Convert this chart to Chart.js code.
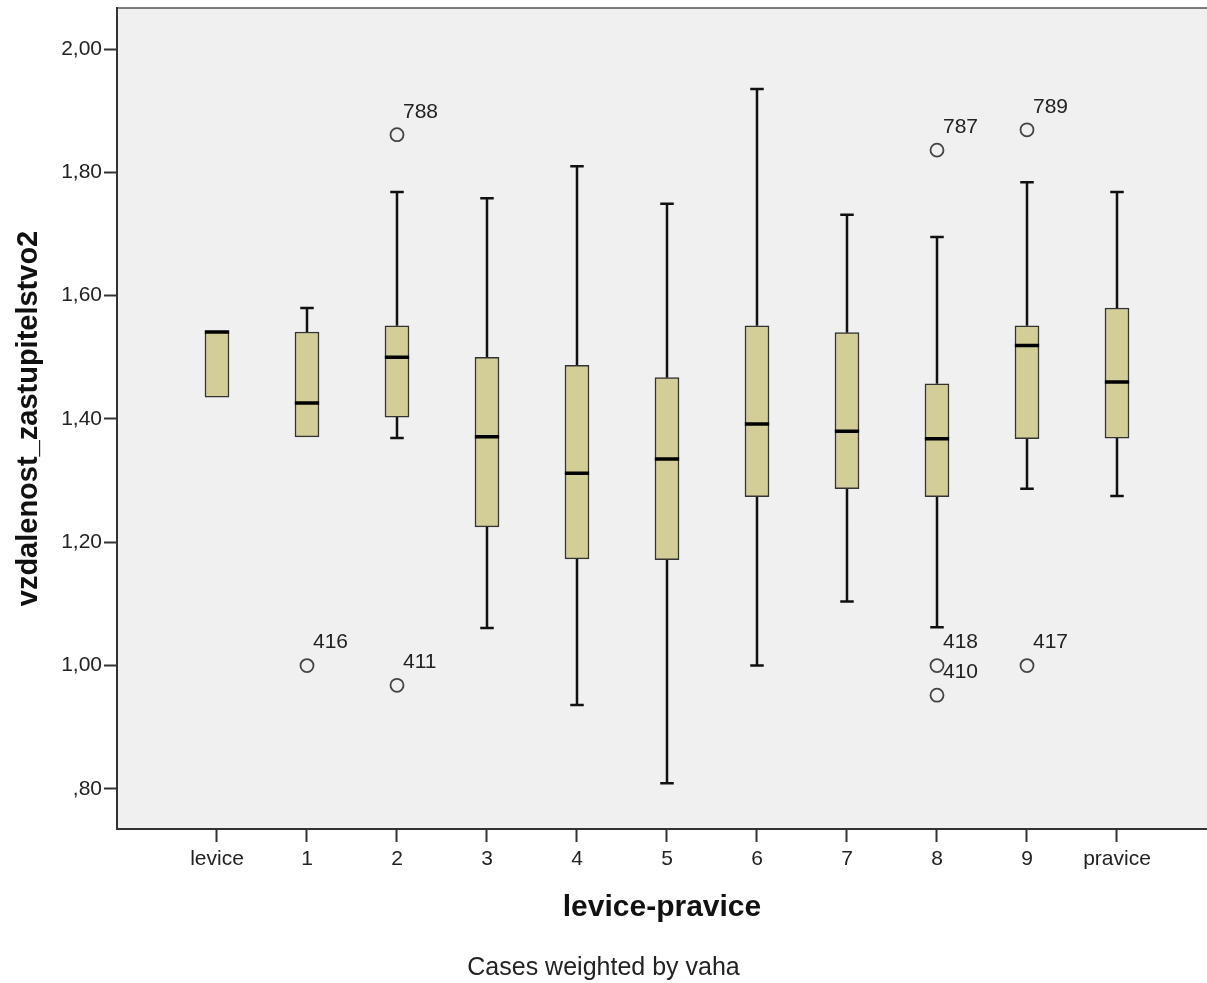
<!DOCTYPE html>
<html>
<head>
<meta charset="utf-8">
<script src="https://cdn.jsdelivr.net/npm/chart.js@4/dist/chart.umd.min.js"></script>
<style>
  html, body { margin: 0; padding: 0; background: #fff; }
  #box { width: 1207px; height: 983px; }
</style>
</head>
<body>
<div id="box"><canvas id="boxChart" width="1207" height="983"></canvas></div>
<script>
// boxplot: vzdalenost_zastupitelstvo2 by levice-pravice (SPSS style)
const categories = ['levice', '1', '2', '3', '4', '5', '6', '7', '8', '9', 'pravice'];
const whiskerLow  = [1.4355, 1.371, 1.369, 1.061, 0.936, 0.809, 1.000, 1.104, 1.062, 1.287, 1.275];
const q1          = [1.4355, 1.371, 1.403, 1.225, 1.173, 1.172, 1.274, 1.287, 1.274, 1.368, 1.369];
const median      = [1.541,  1.426, 1.500, 1.371, 1.312, 1.335, 1.392, 1.380, 1.368, 1.519, 1.460];
const q3          = [1.5426, 1.541, 1.551, 1.500, 1.487, 1.467, 1.551, 1.540, 1.457, 1.551, 1.580];
const whiskerHigh = [1.5426, 1.580, 1.768, 1.758, 1.810, 1.749, 1.935, 1.731, 1.695, 1.784, 1.768];

// outliers: category index, value, case id
const outlierCat   = [1, 2, 2, 8, 8, 8, 9, 9];
const outlierValue = [1.000, 1.861, 0.968, 1.836, 1.000, 0.952, 1.869, 1.000];
const outlierId    = ['416', '788', '411', '787', '418', '410', '789', '417'];

const yTicks = [0.8, 1.0, 1.2, 1.4, 1.6, 1.8, 2.0];

const FONT = 'Arial, "Liberation Sans", sans-serif';
const capHalf = 0.075;   // whisker cap half width (category units)
const medHalf = 0.135;   // median line half width

// build line segments (null breaks the line between segments)
const whiskerPts = [], capPts = [], medianPts = [];
categories.forEach((c, i) => {
  if (whiskerHigh[i] > q3[i]) {
    whiskerPts.push({x: i, y: q3[i]}, {x: i, y: whiskerHigh[i]}, {x: i, y: null});
    capPts.push({x: i - capHalf, y: whiskerHigh[i]}, {x: i + capHalf, y: whiskerHigh[i]}, {x: i, y: null});
  }
  if (whiskerLow[i] < q1[i]) {
    whiskerPts.push({x: i, y: q1[i]}, {x: i, y: whiskerLow[i]}, {x: i, y: null});
    capPts.push({x: i - capHalf, y: whiskerLow[i]}, {x: i + capHalf, y: whiskerLow[i]}, {x: i, y: null});
  }
  medianPts.push({x: i - medHalf, y: median[i]}, {x: i + medHalf, y: median[i]}, {x: i, y: null});
});
const boxData = categories.map((c, i) => ({x: i, y: [q1[i], q3[i]]}));
const outlierPts = outlierCat.map((c, i) => ({x: c, y: outlierValue[i]}));

// grey plot background + top frame line
const plotBg = {
  id: 'plotBg',
  beforeDraw(chart) {
    const {ctx, chartArea: a} = chart;
    ctx.save();
    ctx.fillStyle = '#f0f0f0';
    ctx.fillRect(a.left, a.top, a.right - a.left, a.bottom - a.top);
    ctx.strokeStyle = '#555';
    ctx.lineWidth = 1.5;
    ctx.beginPath();
    ctx.moveTo(a.left, a.top);
    ctx.lineTo(a.right, a.top);
    ctx.stroke();
    ctx.restore();
  }
};

// case ids next to outliers
const outlierLabels = {
  id: 'outlierLabels',
  afterDatasetsDraw(chart) {
    const idx = chart.data.datasets.findIndex(d => d.label === 'outliers');
    const meta = chart.getDatasetMeta(idx);
    const ctx = chart.ctx;
    ctx.save();
    ctx.font = '21px ' + FONT;
    ctx.fillStyle = '#222';
    ctx.textAlign = 'left';
    ctx.textBaseline = 'middle';
    meta.data.forEach((pt, i) => {
      ctx.fillText(outlierId[i], pt.x + 6, pt.y - 23);
    });
    ctx.restore();
  }
};

new Chart(document.getElementById('boxChart'), {
  type: 'bar',
  data: {
    datasets: [
      { type: 'line', label: 'whiskers', data: whiskerPts, borderColor: '#111', borderWidth: 2.5,
        pointRadius: 0, spanGaps: false, fill: false, order: 5 },
      { type: 'bar', label: 'boxes', data: boxData, backgroundColor: '#d3ce97', borderColor: '#333',
        borderWidth: 1.5, borderSkipped: false, barThickness: 24, order: 4 },
      { type: 'line', label: 'caps', data: capPts, borderColor: '#111', borderWidth: 2.5,
        pointRadius: 0, spanGaps: false, fill: false, order: 3 },
      { type: 'line', label: 'medians', data: medianPts, borderColor: '#000', borderWidth: 3.5,
        pointRadius: 0, spanGaps: false, fill: false, order: 2 },
      { type: 'scatter', label: 'outliers', data: outlierPts, showLine: false, pointStyle: 'circle',
        pointRadius: 6.5, borderWidth: 1.8, borderColor: '#444', backgroundColor: 'rgba(0,0,0,0)', order: 1 }
    ]
  },
  options: {
    responsive: false,
    animation: false,
    devicePixelRatio: 1,
    layout: { autoPadding: false, padding: { top: 8, right: 0, left: 0, bottom: 0 } },
    plugins: {
      legend: { display: false },
      tooltip: { enabled: false },
      title: {
        display: true, position: 'bottom', text: 'Cases weighted by vaha',
        color: '#222', font: { family: FONT, size: 25, weight: 'normal' },
        padding: { top: 10, bottom: 0 }
      }
    },
    scales: {
      x: {
        type: 'linear',
        offset: false,
        min: -1.111, max: 11.0,
        afterBuildTicks: s => { s.ticks = categories.map((c, i) => ({ value: i })); },
        afterFit: s => { s.height = 114; s.paddingLeft = 0; s.paddingRight = 0; },
        ticks: {
          autoSkip: false, maxRotation: 0, padding: 5, color: '#222',
          font: { family: FONT, size: 21 },
          callback: v => categories[v]
        },
        grid: { display: true, offset: false, drawOnChartArea: false, drawTicks: true, tickLength: 13, tickColor: '#333', tickWidth: 2 },
        border: { display: true, color: '#333', width: 2 },
        title: {
          display: true, text: 'levice-pravice', color: '#111',
          font: { family: FONT, size: 30, weight: 'bold' },
          padding: { top: 0, bottom: 17 }
        }
      },
      y: {
        type: 'linear',
        min: 0.735, max: 2.0665,
        afterBuildTicks: s => { s.ticks = yTicks.map(v => ({ value: v })); },
        afterFit: s => { s.width = 117; s.paddingTop = 0; s.paddingBottom = 0; },
        ticks: {
          padding: 2, color: '#222',
          font: { family: FONT, size: 21 },
          callback: v => v.toFixed(2).replace('.', ',').replace(/^0/, '')
        },
        grid: { display: true, drawOnChartArea: false, drawTicks: true, tickLength: 13, tickColor: '#333', tickWidth: 2 },
        border: { display: true, color: '#333', width: 2 },
        title: {
          display: true, text: 'vzdalenost_zastupitelstvo2', color: '#111',
          font: { family: FONT, size: 29, weight: 'bold' },
          padding: { top: 12, bottom: 0 }
        }
      }
    }
  },
  plugins: [plotBg, outlierLabels]
});
</script>
</body>
</html>
